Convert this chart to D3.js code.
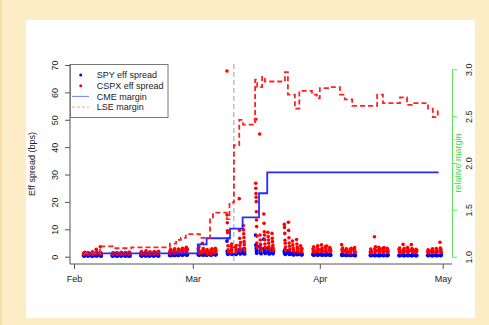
<!DOCTYPE html>
<html>
<head>
<meta charset="utf-8">
<title>Eff spread vs margin</title>
<style>
  body { margin: 0; width: 489px; height: 325px; overflow: hidden; background: #fdedc6; }
  svg text { font-family: "Liberation Sans", Arial, sans-serif; font-size: 9px; fill: #222; }
</style>
</head>
<body>
<script src="https://cdn.jsdelivr.net/npm/d3@7"></script>
<script>
// trading days and intraday effective spreads (bps)
var days = [
  "2020-02-03","2020-02-04","2020-02-05","2020-02-06","2020-02-07",
  "2020-02-10","2020-02-11","2020-02-12","2020-02-13","2020-02-14",
  "2020-02-17","2020-02-18","2020-02-19","2020-02-20","2020-02-21",
  "2020-02-24","2020-02-25","2020-02-26","2020-02-27","2020-02-28",
  "2020-03-02","2020-03-03","2020-03-04","2020-03-05","2020-03-06",
  "2020-03-09","2020-03-10","2020-03-11","2020-03-12","2020-03-13",
  "2020-03-16","2020-03-17","2020-03-18","2020-03-19","2020-03-20",
  "2020-03-23","2020-03-24","2020-03-25","2020-03-26","2020-03-27",
  "2020-03-30","2020-03-31","2020-04-01","2020-04-02","2020-04-03",
  "2020-04-06","2020-04-07","2020-04-08","2020-04-09",
  "2020-04-13","2020-04-14","2020-04-15","2020-04-16","2020-04-17",
  "2020-04-20","2020-04-21","2020-04-22","2020-04-23","2020-04-24",
  "2020-04-27","2020-04-28","2020-04-29","2020-04-30"
];

var spyEff = [
  [0.4,0.5,0.3,0.6,0.4],[0.5,0.3,0.4,0.5,0.6],[0.3,0.5,0.4,0.6,0.3],[0.4,0.6,0.5,0.3,0.5],[0.5,0.4,0.7,0.4,0.3],
  [0.4,0.3,0.5,0.4,0.6],[0.3,0.5,0.4,0.3,0.5],[0.5,0.4,0.3,0.6,0.4],[0.4,0.6,0.4,0.3,0.5],[0.3,0.4,0.5,0.4,0.3],
  [0.5,0.4,0.3,0.5,0.4],[0.4,0.5,0.6,0.3,0.5],[0.3,0.4,0.5,0.4,0.6],[0.5,0.3,0.4,0.6,0.4],[0.4,0.6,0.5,0.4,0.3],
  [0.6,0.5,0.8,0.4,0.7],[0.5,0.7,0.6,0.9,0.5],[0.7,0.5,0.9,0.6,0.8],[0.8,0.6,1.0,0.7,0.9],[0.9,0.7,1.1,0.6,0.8],
  [0.8,1.1,0.6,0.9,0.7],[0.7,1.0,0.8,1.2,0.6],[0.6,0.9,0.7,0.8,1.0],[0.8,0.6,1.0,0.7,0.9],[0.9,1.2,0.7,1.0,0.8],
  [5.7,2.0,1.3,0.9,1.5],[1.8,1.1,2.4,0.9,1.4],[1.2,2.0,0.9,1.6,1.1],[2.6,1.4,1.9,1.0,2.2],[2.0,1.2,3.0,1.5,1.0],
  [7.9,4.3,3.2,2.1,1.3,3.8],[3.6,2.4,1.5,2.9,1.1],[6.4,3.0,1.8,2.5,1.2],[3.1,2.0,1.4,2.6,1.0],[2.4,1.5,3.2,1.1,1.9],
  [1.9,1.2,2.6,0.9,1.5],[2.2,1.4,1.0,1.7,0.9],[1.3,0.8,1.6,1.0,0.7],[1.1,1.5,0.8,1.2,0.9],[0.9,1.3,0.7,1.0,0.8],
  [0.8,1.1,0.6,0.9,0.7],[0.7,1.0,0.8,0.6,0.9],[0.9,0.7,1.0,0.6,0.8],[0.6,0.9,0.7,1.0,0.7],[0.8,0.6,0.9,0.7,0.6],
  [0.7,0.5,0.8,0.6,0.7],[0.5,0.7,0.6,0.8,0.5],[0.6,0.5,0.7,0.5,0.6],[0.5,0.7,0.5,0.6,0.4],
  [0.6,0.4,0.5,0.7,0.5],[0.5,0.7,0.4,0.6,0.5],[0.4,0.6,0.5,0.7,0.4],[0.6,0.5,0.7,0.4,0.6],[0.5,0.4,0.6,0.5,0.7],
  [0.4,0.6,0.5,0.4,0.6],[0.6,0.4,0.7,0.5,0.4],[0.5,0.6,0.4,0.6,0.5],[0.4,0.5,0.6,0.4,0.7],[0.6,0.4,0.5,0.6,0.4],
  [0.5,0.6,0.4,0.5,0.6],[0.4,0.5,0.6,0.4,0.5],[0.6,0.4,0.5,0.6,0.4],[0.5,0.6,0.4,0.5,0.7]
];

var cspxEff = [
  [1.2,0.9,1.4,1.0,1.6],[1.1,1.5,0.9,1.3,1.0],[1.3,1.0,1.8,1.2,0.9],[1.5,2.7,1.1,1.9,1.2],[1.2,3.6,1.0,1.4,1.1],
  [1.0,1.3,0.9,1.2,1.4],[1.2,0.9,1.5,1.1,1.0],[1.3,1.0,1.1,1.6,0.9],[1.1,1.4,1.0,1.2,1.5],[1.0,1.2,1.7,0.9,1.3],
  [1.4,1.0,1.9,1.2,1.1],[1.2,1.6,1.0,2.2,1.3],[1.1,1.3,1.8,1.0,1.5],[1.3,1.0,1.5,1.9,1.1],[1.2,1.7,1.0,1.4,2.0],
  [1.4,2.1,1.2,2.6,1.6],[1.8,2.4,1.3,2.9,1.5],[2.0,1.4,2.8,1.7,2.3],[2.5,1.6,3.1,2.0,2.8],[2.2,3.4,1.8,2.9,2.6],
  [2.8,1.6,3.6,2.1,1.3],[4.9,2.3,1.5,3.0,1.9],[2.0,1.4,2.6,1.2,1.8],[1.6,2.4,1.1,2.0,2.9],[2.5,1.5,3.1,1.8,2.3],
  [67.8,15.2,12.4,9.5,8.8,6.5,4.0,2.5,1.8],[3.8,2.2,1.5,4.6,2.9,1.9,3.2],[2.4,3.5,1.6,2.8,4.1,2.0],
  [21.2,9.7,6.7,4.2,3.0,2.2,5.2],[11.4,9.8,8.4,7.0,5.5,4.4,3.0,2.2],
  [50.2,26.8,25.0,23.1,21.7,20.1,16.4,13.4,11.0,7.5,5.0,3.5],[44.8,7.9,6.1,4.5,3.2,2.4],
  [15.6,12.2,9.1,7.9,6.2,4.6,3.3],[8.9,7.4,6.1,4.9,3.6,2.7],[8.5,6.7,5.5,4.2,3.1,2.3],
  [11.8,10.7,8.5,6.0,4.9,3.5,2.4],[12.6,9.6,6.9,5.0,3.8,2.6],[5.7,4.3,3.2,2.5,1.9],[6.3,4.6,3.4,2.6,1.8],[4.0,3.1,2.3,1.7,2.9],
  [2.8,1.9,3.6,2.4,1.6],[3.2,2.1,4.0,1.8,2.6],[2.5,4.3,1.9,3.1,2.2],[3.6,2.0,2.8,1.7,3.9],[2.4,3.3,1.8,2.9,2.1],
  [4.4,2.6,1.9,3.2,2.2],[2.3,1.6,2.9,2.0,1.5],[1.9,2.7,1.4,2.2,3.1],[2.6,1.8,3.3,2.1,1.5],
  [1.7,2.8,1.4,2.2,1.9],[7.3,2.9,1.8,3.6,2.2],[2.4,3.4,1.6,2.8,2.0],[3.0,1.9,2.5,1.5,3.3],[2.2,3.1,1.7,2.6,1.9],
  [2.7,1.8,3.2,2.1,1.5],[4.5,2.4,1.7,3.0,2.0],[2.1,3.3,1.6,2.5,1.9],[4.4,2.3,3.0,1.8,2.6],[2.0,1.5,2.7,1.8,2.3],
  [1.8,2.5,1.4,2.1,1.6],[2.3,1.6,2.9,1.9,1.5],[2.0,3.0,1.7,2.4,1.8],[5.3,3.2,1.9,2.6,1.6]
];

// relative margins (step series)
var cmeDates = ["2020-02-03T06:00","2020-03-02T05:00","2020-03-04T09:00","2020-03-10T02:00",
  "2020-03-13T04:00","2020-03-17T04:00","2020-03-19T04:00","2020-04-30T00:00"];
var cmeMargin = [1.036,1.132,1.197,1.30,1.42,1.677,1.90,1.90];

var lseDates = ["2020-02-03T06:00","2020-02-07T08:00","2020-02-10T12:00","2020-02-15T00:00",
  "2020-02-24T10:00","2020-02-25T22:00","2020-02-27T02:00","2020-02-28T07:00","2020-03-02T18:00",
  "2020-03-05T05:00","2020-03-05T22:00","2020-03-09T07:00","2020-03-09T23:00","2020-03-11T01:00",
  "2020-03-12T08:00","2020-03-13T06:00","2020-03-16T05:00","2020-03-16T17:00","2020-03-17T22:00",
  "2020-03-18T14:00","2020-03-23T12:00","2020-03-24T05:00","2020-03-25T22:00","2020-03-27T00:00",
  "2020-03-30T02:00","2020-03-31T07:00","2020-04-01T00:00","2020-04-03T00:00","2020-04-05T22:00",
  "2020-04-07T02:00","2020-04-08T22:00","2020-04-15T00:00","2020-04-16T10:00","2020-04-20T14:00",
  "2020-04-22T07:00","2020-04-23T12:00","2020-04-27T10:00","2020-04-28T14:00","2020-04-29T19:00"];
var lseMargin = [1.036,1.11,1.09,1.10,1.14,1.18,1.20,1.24,1.20,1.42,1.47,1.40,1.58,2.19,2.46,2.41,
  2.89,2.81,2.92,2.87,2.97,2.73,2.58,2.77,2.73,2.69,2.80,2.81,2.73,2.68,2.61,2.73,2.64,2.70,2.62,
  2.64,2.58,2.49,2.56];

var spreadTicks = [0,10,20,30,40,50,60,70];
var marginTicks = [1.0,1.5,2.0,2.5,3.0];
var monthTicks = ["2020-02-01","2020-03-01","2020-04-01","2020-05-01"];
var monthLabels = ["Feb","Mar","Apr","May"];
var eventDay = "2020-03-11";

var parseDay = d3.utcParse("%Y-%m-%d"),
    parseTime = d3.utcParse("%Y-%m-%dT%H:%M");

// plot region (R style)
var plot = { left: 70, right: 452, top: 64, bottom: 264 };

var svg = d3.select("body").append("svg")
  .attr("width", 489).attr("height", 325);

svg.append("rect").attr("width", 489).attr("height", 325).attr("fill", "#fdedc6");
svg.append("rect").attr("width", 2).attr("height", 325).attr("fill", "#f3dcaa");
svg.append("rect").attr("x", 26).attr("y", 20).attr("width", 449).attr("height", 298).attr("fill", "#fff");

var x = d3.scaleUtc()
  .domain([parseDay(monthTicks[0]), parseDay(monthTicks[3])])
  .range([74, 442.7]);
var y = d3.scaleLinear().domain([0, 70]).range([256.7, 65]);
var y2 = d3.scaleLinear().domain([1, 3]).range([256.7, 69.3]);

// flatten the intraday observations, spread through the trading session
function points(series) {
  var out = [];
  series.forEach(function (vals, i) {
    var d0 = parseDay(days[i]);
    vals.forEach(function (v, j) {
      var h = 8 + j * 8 / (vals.length - 1);
      out.push({ t: new Date(d0.getTime() + h * 3600e3), v: v });
    });
  });
  return out;
}

svg.append("g").selectAll("circle")
  .data(points(spyEff))
  .enter().append("circle")
  .attr("cx", function (d) { return x(d.t); })
  .attr("cy", function (d) { return y(d.v); })
  .attr("r", 1.9)
  .attr("fill", "#0000ff");

svg.append("g").selectAll("circle")
  .data(points(cspxEff))
  .enter().append("circle")
  .attr("cx", function (d) { return x(d.t); })
  .attr("cy", function (d) { return y(d.v); })
  .attr("r", 1.8)
  .attr("fill", "#ff0000");

// event line
svg.append("line")
  .attr("x1", x(parseDay(eventDay))).attr("x2", x(parseDay(eventDay)))
  .attr("y1", plot.top).attr("y2", plot.bottom)
  .attr("stroke", "#bebebe").attr("stroke-width", 1.5)
  .attr("stroke-dasharray", "5,3");

var step = d3.line()
  .x(function (d) { return x(d.t); })
  .y(function (d) { return y2(d.v); })
  .curve(d3.curveStepAfter);

svg.append("path")
  .datum(cmeDates.map(function (t, i) { return { t: parseTime(t), v: cmeMargin[i] }; }))
  .attr("d", step)
  .attr("fill", "none").attr("stroke", "#2a2aff").attr("stroke-width", 1.8);

svg.append("path")
  .datum(lseDates.map(function (t, i) { return { t: parseTime(t), v: lseMargin[i] }; }))
  .attr("d", step)
  .attr("fill", "none").attr("stroke", "#ff2020").attr("stroke-width", 1.8)
  .attr("stroke-dasharray", "5,3");

// box (bty = "l")
svg.append("path")
  .attr("d", "M" + plot.left + "," + plot.top + "V" + plot.bottom + "H" + plot.right)
  .attr("fill", "none").attr("stroke", "#555");

// bottom axis
var xAxis = svg.append("g")
  .attr("transform", "translate(0," + plot.bottom + ")")
  .call(d3.axisBottom(x)
    .tickValues(monthTicks.map(parseDay))
    .tickFormat(function (d, i) { return monthLabels[i]; })
    .tickSize(5).tickPadding(7));
xAxis.select(".domain").remove();
xAxis.selectAll("line").attr("stroke", "#555");
xAxis.selectAll("text").attr("font-size", null).attr("font-family", null);

// left axis
var yAxis = svg.append("g")
  .attr("transform", "translate(" + plot.left + ",0)")
  .call(d3.axisLeft(y).tickValues(spreadTicks).tickSize(5));
yAxis.select(".domain").remove();
yAxis.selectAll("line").attr("stroke", "#555");
yAxis.selectAll("text")
  .attr("x", 0).attr("dy", "0.35em")
  .attr("transform", "translate(-15.5,0) rotate(-90)")
  .attr("text-anchor", "middle")
  .attr("font-size", null).attr("font-family", null);

svg.append("text")
  .attr("transform", "translate(32.3,164) rotate(-90)")
  .attr("dy", "0.35em")
  .attr("text-anchor", "middle")
  .text("Eff spread (bps)");

// right axis (relative margin)
var rAxis = svg.append("g")
  .attr("transform", "translate(" + plot.right + ",0)")
  .call(d3.axisRight(y2).tickValues(marginTicks).tickFormat(d3.format(".1f"))
    .tickSize(5).tickSizeOuter(0));
rAxis.select(".domain").attr("stroke", "#5de85d");
rAxis.selectAll("line").attr("stroke", "#5de85d");
rAxis.selectAll("text")
  .attr("x", 0).attr("dy", "0.35em")
  .attr("transform", "translate(16.5,0) rotate(-90)")
  .attr("text-anchor", "middle")
  .attr("font-size", null).attr("font-family", null);

svg.append("text")
  .attr("transform", "translate(458.3,163) rotate(-90)")
  .attr("dy", "0.35em")
  .attr("text-anchor", "middle")
  .style("fill", "#44dd44")
  .text("relative margin");

// legend
var legend = svg.append("g").attr("transform", "translate(" + plot.left + "," + plot.top + ")");
legend.append("rect")
  .attr("x", 0.5).attr("y", 0.5).attr("width", 97.5).attr("height", 53)
  .attr("fill", "#fff").attr("stroke", "#777");

var rowY = [11, 21.7, 32.4, 43.1];
legend.append("circle").attr("cx", 10.7).attr("cy", rowY[0]).attr("r", 1.5).attr("fill", "#0000ff");
legend.append("circle").attr("cx", 10.7).attr("cy", rowY[1]).attr("r", 1.5).attr("fill", "#ff0000");
legend.append("line").attr("x1", 2).attr("x2", 19).attr("y1", rowY[2]).attr("y2", rowY[2])
  .attr("stroke", "#7a7aff").attr("stroke-width", 1);
legend.append("line").attr("x1", 2).attr("x2", 19).attr("y1", rowY[3]).attr("y2", rowY[3])
  .attr("stroke", "#ff9a9a").attr("stroke-width", 1).attr("stroke-dasharray", "3,2");

legend.selectAll("text.lab")
  .data(["SPY eff spread", "CSPX eff spread", "CME margin", "LSE margin"])
  .enter().append("text")
  .attr("class", "lab")
  .attr("x", 26.7)
  .attr("y", function (d, i) { return rowY[i]; })
  .attr("dy", "0.35em")
  .text(function (d) { return d; });
</script>
</body>
</html>
